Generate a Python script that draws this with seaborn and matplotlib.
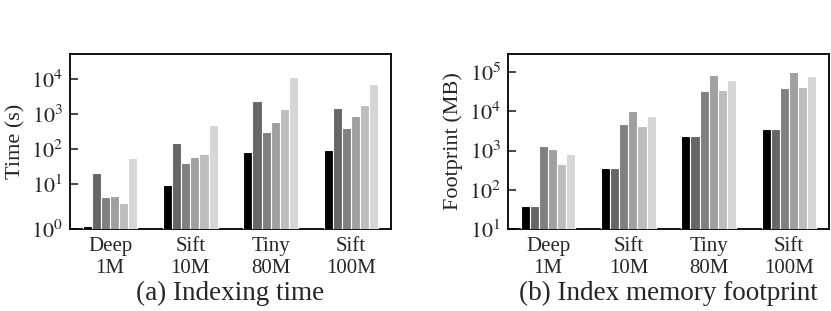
"""
plot.py - indexing time and index memory footprint per dataset
"""
import numpy as np
import pandas as pd
import matplotlib
matplotlib.use("Agg")
import matplotlib.pyplot as plt
import seaborn as sns

sns.set_style("ticks")
plt.rcParams['font.family'] = ['Liberation Serif', 'DejaVu Serif']
plt.rcParams['mathtext.fontset'] = 'stix'

datasets = ["Deep\n1M", "Sift\n10M", "Tiny\n80M", "Sift\n100M"]
methods = ["M1", "M2", "M3", "M4", "M5", "M6"]
grays = ["#000000", "#666666", "#808080", "#a0a0a0", "#bdbdbd", "#d6d6d6"]

# indexing time (s), one list per dataset, methods in order
time_deep1m = [1.15, 20.6, 5.2, 5.4, 3.7, 54]
time_sift10m = [9.5, 148, 41, 60, 74, 474]
time_tiny80m = [82, 2350, 313, 603, 1390, 11700]
time_sift100m = [94, 1480, 407, 895, 1850, 7190]

# index memory footprint (MB)
mem_deep1m = [39, 39, 1316, 1100, 466, 822]
mem_sift10m = [361, 361, 4700, 10300, 4180, 7830]
mem_tiny80m = [2415, 2415, 33400, 85500, 35400, 63700]
mem_sift100m = [3575, 3575, 38300, 100000, 40600, 80500]


def long_form(rows):
    recs = []
    for ds, vals in zip(datasets, rows):
        for m, v in zip(methods, vals):
            recs.append({"dataset": ds, "method": m, "value": v})
    return pd.DataFrame(recs)


df_time = long_form([time_deep1m, time_sift10m, time_tiny80m, time_sift100m])
df_mem = long_form([mem_deep1m, mem_sift10m, mem_tiny80m, mem_sift100m])

# the time axis gives the 1..10 decade more room than the others
K = 45 / 35


def fwd(y):
    with np.errstate(all="ignore"):
        ly = np.log10(np.clip(np.asarray(y, float), 1e-6, None))
        return np.where(ly < 1, ly * K, K + ly - 1)


def inv(t):
    with np.errstate(all="ignore"):
        t = np.asarray(t, float)
        return np.where(t < K, 10 ** (t / K), 10 ** (t - K + 1))


fig = plt.figure(figsize=(8.31, 3.11), dpi=100)
ax1 = fig.add_axes([0.0842, 0.2637, 0.3863, 0.5627])
ax2 = fig.add_axes([0.6113, 0.2637, 0.3863, 0.5627])

ax1.set_yscale("function", functions=(fwd, inv))
ax2.set_yscale("log")

for ax, df in [(ax1, df_time), (ax2, df_mem)]:
    sns.barplot(data=df, x="dataset", y="value", hue="method", order=datasets,
                hue_order=methods, palette=grays, width=0.68, errorbar=None,
                edgecolor="white", linewidth=0.8, legend=False, zorder=3, ax=ax)

ax1.set_ylim(1, 5.2e4)
ax1.set_yticks([1, 10, 100, 1000, 10000])
ax1.set_yticklabels([r"$10^{%d}$" % i for i in range(5)])
ax2.set_ylim(10, 2.9e5)
ax2.set_yticks([10, 100, 1000, 10000, 100000])
ax2.set_yticklabels([r"$10^{%d}$" % i for i in range(1, 6)])
ax2.minorticks_off()
ax1.minorticks_off()

ax1.set_ylabel("Time (s)", fontsize=16, labelpad=4)
ax2.set_ylabel("Footprint (MB)", fontsize=16, labelpad=4)

for ax, title in [(ax1, "(a) Indexing time"), (ax2, "(b) Index memory footprint")]:
    ax.set_xlim(-0.5, 3.5)
    ax.set_xlabel("")
    ax.tick_params(axis="y", direction="in", length=6, width=1.2, labelsize=16, pad=5)
    ax.tick_params(axis="x", length=0, labelsize=15, pad=6)
    for s in ax.spines.values():
        s.set_visible(True)
        s.set_linewidth(1.3)
        s.set_color("black")
    ax.text(0.5, -0.37, title, transform=ax.transAxes, ha="center", va="center",
            fontsize=19.5)

fig.savefig("out.png", dpi=100)
plt.close(fig)
